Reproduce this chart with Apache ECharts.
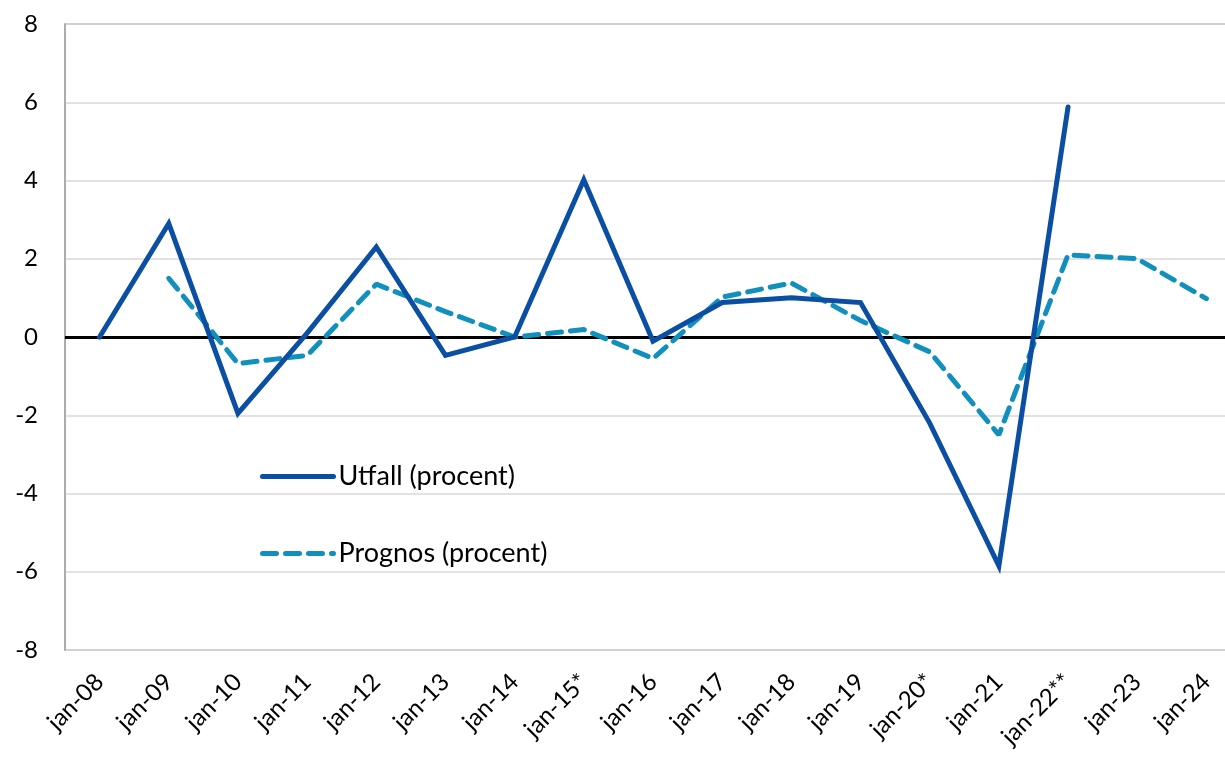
<!DOCTYPE html>
<html>
<head>
<meta charset="utf-8">
<script src="https://cdn.jsdelivr.net/npm/echarts@6/dist/echarts.min.js"></script>
<style>
  html, body { margin: 0; padding: 0; background: #fff; }
  #main { width: 1225px; height: 762px; }
</style>
</head>
<body>
<div id="main"></div>
<script>
// kategorier och värden
var manader = ['jan-08', 'jan-09', 'jan-10', 'jan-11', 'jan-12', 'jan-13', 'jan-14', 'jan-15*', 'jan-16',
  'jan-17', 'jan-18', 'jan-19', 'jan-20*', 'jan-21', 'jan-22**', 'jan-23', 'jan-24'];
var utfall = [0, 2.9, -1.95, 0.1, 2.3, -0.47, 0, 4.02, -0.11, 0.88, 1.0, 0.88, -2.2, -5.85, 5.88, null, null];
var prognos = [null, 1.5, -0.68, -0.47, 1.35, 0.65, 0.0, 0.19, -0.55, 1.02, 1.38, 0.42, -0.38, -2.5, 2.1, 2.0, 0.98];
var yTicks = [-8, -6, -4, -2, 0, 2, 4, 6, 8];

var font = 'Lato, "Open Sans", sans-serif';

var myChart = echarts.init(document.getElementById('main'));

var option = {
  backgroundColor: '#fff',
  animation: false,
  grid: {
    left: 65,
    top: 24,
    width: 1176,
    height: 626,
    outerBoundsMode: 'none',
    containLabel: false,
    show: true,
    borderColor: '#a6a6a6',
    borderWidth: 1.5
  },
  legend: {
    orient: 'vertical',
    left: 255,
    top: 458,
    itemWidth: 71,
    itemHeight: 14,
    itemGap: 50,
    textStyle: { fontFamily: font, fontSize: 27, color: '#000' },
    data: [
      { name: 'Utfall (procent)', itemStyle: { opacity: 0 }, lineStyle: { width: 5, cap: 'round' } },
      { name: 'Prognos (procent)', itemStyle: { opacity: 0 }, lineStyle: { width: 5, type: [14, 9], cap: 'round' } }
    ]
  },
  xAxis: {
    type: 'category',
    data: manader,
    boundaryGap: true,
    axisLine: { show: true, lineStyle: { color: '#a6a6a6', width: 1.5 } },
    axisTick: { show: false },
    axisLabel: {
      rotate: 45,
      margin: 28,
      interval: 0,
      color: '#000',
      fontFamily: font,
      fontSize: 24
    }
  },
  yAxis: {
    type: 'value',
    min: yTicks[0],
    max: yTicks[yTicks.length - 1],
    interval: 2,
    axisLine: { show: true, lineStyle: { color: '#a6a6a6', width: 1.5 } },
    axisTick: { show: false },
    axisLabel: { margin: 27, color: '#000', fontFamily: font, fontSize: 24 },
    splitLine: { lineStyle: { color: '#d9d9d9', width: 1.5 } }
  },
  series: [
    {
      name: 'Utfall (procent)',
      type: 'line',
      data: utfall,
      symbol: 'none',
      connectNulls: false,
      lineStyle: { color: '#0b4fa3', width: 5, cap: 'round', join: 'miter' },
      itemStyle: { color: '#0b4fa3' },
      z: 4,
      markLine: {
        silent: true,
        symbol: 'none',
        label: { show: false },
        lineStyle: { color: '#000', width: 3, type: 'solid' },
        data: [{ yAxis: 0 }],
        z: 1
      }
    },
    {
      name: 'Prognos (procent)',
      type: 'line',
      data: prognos,
      symbol: 'none',
      lineStyle: { color: '#1190be', width: 5, type: [14, 9], cap: 'round' },
      itemStyle: { color: '#1190be' },
      z: 3
    }
  ]
};

myChart.setOption(option);
</script>
</body>
</html>
